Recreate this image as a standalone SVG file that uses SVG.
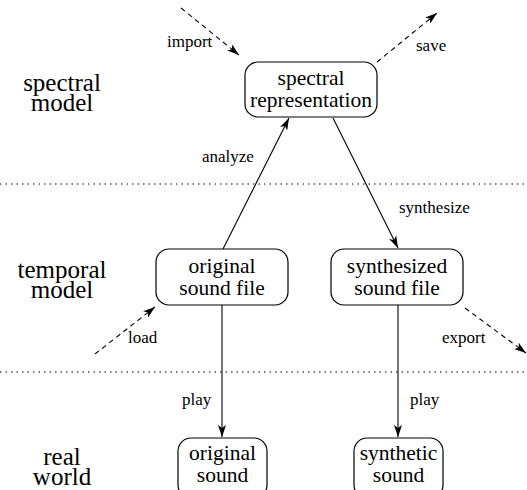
<svg xmlns="http://www.w3.org/2000/svg" width="527" height="490" viewBox="0 0 527 490">
<style>
.node rect{fill:#fff;stroke:#000;stroke-width:1.2}
.nt{font-family:"Liberation Serif","Times New Roman",serif;font-size:21.5px;text-anchor:middle;fill:#000}
.lvl{font-family:"Liberation Serif","Times New Roman",serif;font-size:25px;text-anchor:middle;fill:#000}
.el{font-family:"Liberation Serif","Times New Roman",serif;font-size:17px;fill:#000}
.sep{stroke:#000;stroke-width:1;stroke-dasharray:1.5 4;fill:none}
.solid{stroke:#000;stroke-width:1.1;fill:none;marker-end:url(#ah)}
.dash{stroke:#000;stroke-width:1.1;fill:none;stroke-dasharray:5 4;marker-end:url(#ah)}
</style>
<defs>
<marker id="ah" viewBox="0 0 12 8" refX="12" refY="4" markerWidth="12" markerHeight="8" markerUnits="userSpaceOnUse" orient="auto">
<path d="M0,0 L12,4 L0,8 L3,4 Z" fill="#000"/>
</marker>
</defs>
<g id="separators">
<line class="sep" x1="0" y1="184" x2="527" y2="184"/>
<line class="sep" x1="0" y1="372" x2="527" y2="372"/>
</g>
<g id="levels">
<text class="lvl" x="62" y="91">spectral</text>
<text class="lvl" x="62" y="111">model</text>
<text class="lvl" x="62" y="278">temporal</text>
<text class="lvl" x="62" y="298">model</text>
<text class="lvl" x="62" y="465">real</text>
<text class="lvl" x="62" y="485">world</text>
</g>
<g id="connectors">
<line class="solid" x1="223" y1="249" x2="289" y2="118"/>
<line class="solid" x1="333" y1="118" x2="398" y2="248"/>
<line class="solid" x1="222" y1="305" x2="222" y2="437"/>
<line class="solid" x1="398" y1="305" x2="398" y2="437"/>
<line class="dash" x1="181" y1="8" x2="239" y2="55"/>
<line class="dash" x1="377" y1="62" x2="437" y2="13"/>
<line class="dash" x1="95" y1="354" x2="155" y2="307"/>
<line class="dash" x1="465" y1="308" x2="526" y2="353"/>
<text class="el" x="167" y="47">import</text>
<text class="el" x="416" y="51">save</text>
<text class="el" x="202" y="162">analyze</text>
<text class="el" x="399" y="213">synthesize</text>
<text class="el" x="128" y="343">load</text>
<text class="el" x="442" y="343">export</text>
<text class="el" x="182" y="405">play</text>
<text class="el" x="410" y="405">play</text>
</g>
<g id="spectral-representation" class="node">
<rect x="245" y="62" width="132" height="55" rx="13"/>
<text class="nt" x="311" y="85">spectral</text>
<text class="nt" x="311" y="107">representation</text>
</g>
<g id="original-sound-file" class="node">
<rect x="156" y="249" width="132" height="56" rx="13"/>
<text class="nt" x="222" y="273">original</text>
<text class="nt" x="222" y="295">sound file</text>
</g>
<g id="synthesized-sound-file" class="node">
<rect x="331" y="249" width="132" height="56" rx="13"/>
<text class="nt" x="397" y="273">synthesized</text>
<text class="nt" x="397" y="295">sound file</text>
</g>
<g id="original-sound" class="node">
<rect x="178" y="438" width="89" height="60" rx="13"/>
<text class="nt" x="222.5" y="460">original</text>
<text class="nt" x="222.5" y="482">sound</text>
</g>
<g id="synthetic-sound" class="node">
<rect x="354" y="438" width="89" height="60" rx="13"/>
<text class="nt" x="398.5" y="460">synthetic</text>
<text class="nt" x="398.5" y="482">sound</text>
</g>
</svg>
